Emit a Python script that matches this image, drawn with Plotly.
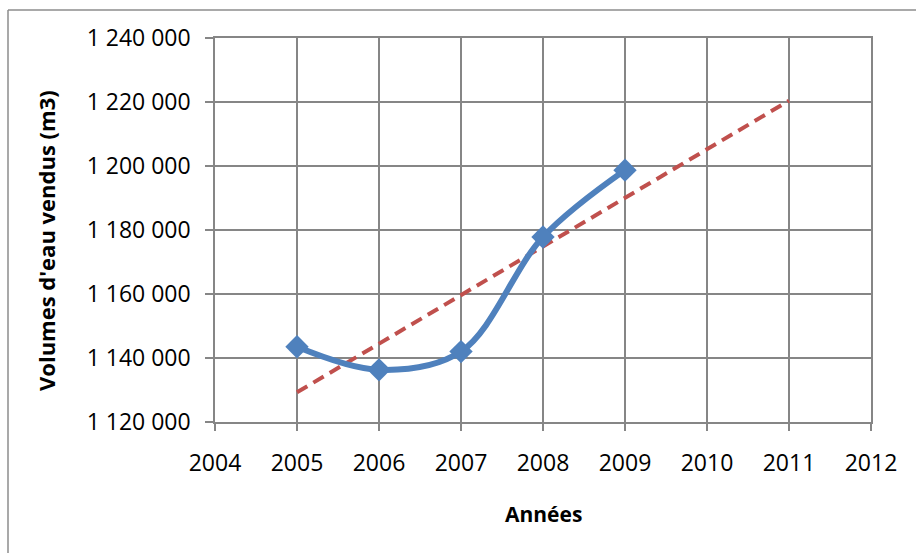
import numpy as np
import plotly.graph_objects as go

# Volumes d'eau vendus par année (m3)
annees = [2005, 2006, 2007, 2008, 2009]
volumes = [1143500, 1136300, 1142000, 1177800, 1198700]

# Axis ticks
x_ticks = [2004, 2005, 2006, 2007, 2008, 2009, 2010, 2011, 2012]
y_ticks = [1120000, 1140000, 1160000, 1180000, 1200000, 1220000, 1240000]
y_ticktext = ["1 120 000", "1 140 000", "1 160 000", "1 180 000",
              "1 200 000", "1 220 000", "1 240 000"]

# Linear trend, projected two years ahead
tendance_x = [2005, 2011]
pente, origine = np.polyfit(annees, volumes, 1)
tendance_y = [pente * x + origine for x in tendance_x]

W, H = 916, 553
M_L, M_R, M_T, M_B = 215, 45, 38, 131
PW, PH = W - M_L - M_R, H - M_T - M_B


def px_x(px):
    return (px - M_L) / PW


def px_y(py):
    return (H - M_B - py) / PH


GRID = "#868686"
FONT = "Open Sans"

fig = go.Figure()

fig.add_trace(go.Scatter(
    x=tendance_x, y=tendance_y, mode="lines",
    line=dict(color="#C0504D", width=4, dash="12px,7px"),
    hoverinfo="skip", showlegend=False,
))

fig.add_trace(go.Scatter(
    x=annees, y=volumes, mode="lines+markers",
    line=dict(color="#4F81BD", width=6, shape="spline", smoothing=1),
    marker=dict(symbol="diamond", size=18, color="#4F81BD"),
    showlegend=False,
))

fig.update_xaxes(
    range=[2004, 2012], tickvals=x_ticks, ticktext=[str(v) for v in x_ticks],
    showgrid=True, gridcolor=GRID, gridwidth=1.5,
    showline=True, linecolor=GRID, linewidth=1.5, mirror=True,
    ticks="outside", ticklen=7, tickcolor=GRID, tickwidth=1.5,
    ticklabelstandoff=13,
    tickfont=dict(family=FONT, size=23, color="#000000"),
    zeroline=False, fixedrange=True,
)
fig.update_yaxes(
    range=[1120000, 1240000], tickvals=y_ticks, ticktext=y_ticktext,
    showgrid=True, gridcolor=GRID, gridwidth=1.5,
    showline=True, linecolor=GRID, linewidth=1.5, mirror=True,
    ticks="outside", ticklen=8, tickcolor=GRID, tickwidth=1.5,
    ticklabelstandoff=10,
    tickfont=dict(family=FONT, size=23, color="#000000"),
    zeroline=False, fixedrange=True,
)

fig.update_layout(
    width=W, height=H,
    margin=dict(l=M_L, r=M_R, t=M_T, b=M_B, pad=0),
    paper_bgcolor="#FFFFFF", plot_bgcolor="#FFFFFF",
    annotations=[
        dict(text="<b>Volumes d'eau vendus (m3)</b>", textangle=-90,
             x=px_x(46), y=px_y(241), xref="paper", yref="paper",
             xanchor="center", yanchor="middle", showarrow=False,
             font=dict(family=FONT, size=22, color="#000000")),
        dict(text="<b>Années</b>",
             x=px_x(543), y=px_y(514), xref="paper", yref="paper",
             xanchor="center", yanchor="middle", showarrow=False,
             font=dict(family=FONT, size=21, color="#000000")),
    ],
    shapes=[
        # chart frame (left and top edges)
        dict(type="line", xref="paper", yref="paper",
             x0=px_x(8), x1=px_x(8), y0=px_y(10), y1=px_y(560),
             line=dict(color="#8C8C8C", width=1.5)),
        dict(type="line", xref="paper", yref="paper",
             x0=px_x(8), x1=px_x(925), y0=px_y(10), y1=px_y(10),
             line=dict(color="#8C8C8C", width=1.5)),
    ],
)

fig.write_html("out.html")
